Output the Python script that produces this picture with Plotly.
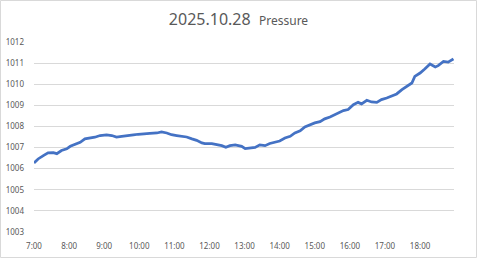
import plotly.graph_objects as go

times = ["07:00","07:07","07:16","07:24","07:33","07:39","07:47","07:56","08:02","08:10",
         "08:19","08:27","08:36","08:44","08:53","09:04","09:13","09:21","09:30","09:38",
         "09:50","09:58","10:07","10:18","10:30","10:38","10:47","10:55","11:04","11:12",
         "11:21","11:30","11:38","11:47","11:52","12:04","12:12","12:21","12:28","12:35",
         "12:44","12:51","12:55","13:01","13:09","13:18","13:26","13:35","13:43","13:52",
         "14:00","14:09","14:18","14:26","14:35","14:43","14:52","15:00","15:09","15:17",
         "15:26","15:35","15:49","15:57","16:06","16:14","16:20","16:29","16:37","16:46",
         "16:54","17:03","17:11","17:20","17:29","17:37","17:46","17:51","18:00","18:08",
         "18:17","18:26","18:31","18:40","18:48","18:57"]
pressure = [1006.27,1006.46,1006.62,1006.75,1006.76,1006.71,1006.86,1006.94,1007.06,1007.15,
            1007.25,1007.41,1007.44,1007.49,1007.57,1007.60,1007.57,1007.50,1007.53,1007.57,
            1007.60,1007.63,1007.66,1007.67,1007.69,1007.74,1007.69,1007.61,1007.57,1007.53,
            1007.50,1007.41,1007.34,1007.22,1007.19,1007.19,1007.15,1007.09,1007.01,1007.09,
            1007.13,1007.09,1007.06,1006.95,1006.98,1007.01,1007.13,1007.09,1007.19,1007.25,
            1007.31,1007.45,1007.53,1007.69,1007.79,1007.98,1008.10,1008.17,1008.23,1008.36,
            1008.45,1008.56,1008.75,1008.80,1009.03,1009.14,1009.07,1009.24,1009.16,1009.14,
            1009.27,1009.35,1009.43,1009.54,1009.74,1009.90,1010.06,1010.37,1010.53,1010.72,
            1010.96,1010.82,1010.88,1011.08,1011.05,1011.20]
date = "2025-10-28"
title_date = "2025.10.28"
title_name = "Pressure"
y_ticks = [1003,1004,1005,1006,1007,1008,1009,1010,1011,1012]
x_tick_labels = ["7:00","8:00","9:00","10:00","11:00","12:00","13:00","14:00","15:00","16:00","17:00","18:00"]

x = [f"{date} {t}" for t in times]
x_tick_vals = [f"{date} {int(l.split(':')[0]):02d}:00" for l in x_tick_labels]

fig = go.Figure()
fig.add_trace(go.Scatter(x=x, y=pressure, mode="lines",
                         line=dict(color="#4472C4", width=2.75), showlegend=False))

font = "Noto Sans, Liberation Sans, sans-serif"
fig.update_layout(
    width=477, height=258,
    margin=dict(l=34, r=23, t=42, b=26),
    paper_bgcolor="white", plot_bgcolor="white",
    title=dict(text=f"{title_date}  <span style='font-size:12px'>{title_name}</span>",
               x=0.5, xanchor="center", y=1 - 19/258, yanchor="middle", yref="container",
               font=dict(family=font, size=16, color="#595959")),
    xaxis=dict(range=[f"{date} 07:00", f"{date} 18:58"], tickvals=x_tick_vals,
               ticktext=x_tick_labels, showgrid=False, zeroline=False, showline=False,
               ticks="", ticklabelstandoff=8, automargin=False,
               tickfont=dict(family=font, size=8, color="#595959")),
    yaxis=dict(range=[1003, 1012], tickvals=y_ticks, showgrid=True, gridcolor="#D9D9D9",
               gridwidth=1, zeroline=False, showline=False, ticks="", ticklabelstandoff=9,
               automargin=False,
               tickfont=dict(family=font, size=8, color="#595959")),
    shapes=[dict(type="rect", xref="paper", yref="paper",
                 x0=-33.5/420, x1=1 + 22.5/420, y0=-25.5/190, y1=1 + 41.5/190,
                 line=dict(color="#D9D9D9", width=1), fillcolor="rgba(0,0,0,0)", layer="below")],
)

fig.write_html("out.html")
